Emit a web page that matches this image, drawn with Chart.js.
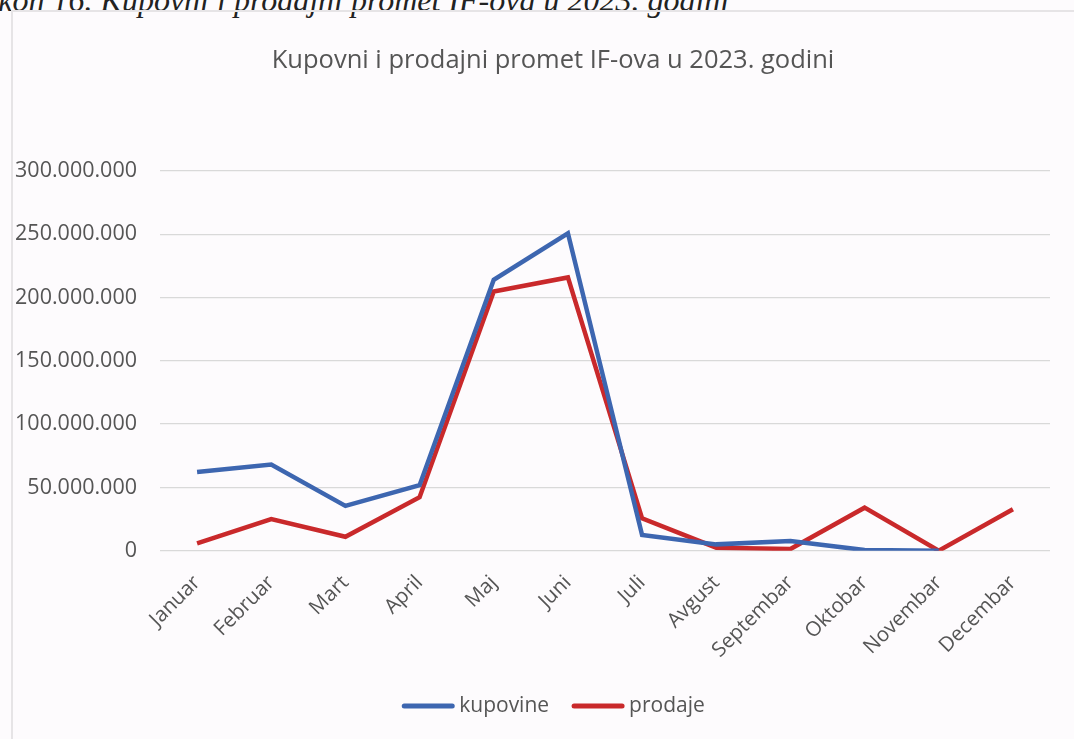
<!DOCTYPE html>
<html>
<head>
<meta charset="utf-8">
<script src="https://cdn.jsdelivr.net/npm/chart.js@4.4.1/dist/chart.umd.min.js"></script>
<style>
  html, body { margin: 0; padding: 0; background: #fdfbfd; width: 1074px; height: 739px; overflow: hidden; }
  #caption { position: absolute; left: -71px; top: -16px; line-height: 1; font-family: "Liberation Serif", serif; font-style: italic; font-size: 32px; color: #222; white-space: nowrap; }
  #frame { position: absolute; left: 11px; top: 10px; width: 1100px; height: 800px; border-left: 2px solid #e6e4e6; border-top: 2px solid #e6e4e6; }
  #wrap { position: absolute; left: 0; top: 0; width: 1074px; height: 739px; }
</style>
</head>
<body>
<div id="caption">Grafikon 16. Kupovni i prodajni promet IF-ova u 2023. godini</div>
<div id="frame"></div>
<div id="wrap"><canvas id="c" width="1074" height="739"></canvas></div>
<script>
const title = "Kupovni i prodajni promet IF-ova u 2023. godini";
const months = ["Januar","Februar","Mart","April","Maj","Juni","Juli","Avgust","Septembar","Oktobar","Novembar","Decembar"];
const kupovine = [62200000, 68000000, 35400000, 51700000, 214000000, 250800000, 12400000, 5000000, 7600000, 500000, 0, null];
const prodaje = [5700000, 24900000, 11000000, 42300000, 204800000, 215900000, 25500000, 2400000, 1300000, 34000000, 0, 32800000];
const yTicks = [0, 50000000, 100000000, 150000000, 200000000, 250000000, 300000000];

const fmt = v => String(v).replace(/\B(?=(\d{3})+(?!\d))/g, ".");

const decorPlugin = {
  id: "decor",
  afterDraw(chart) {
    const ctx = chart.ctx;
    ctx.save();
    // title
    ctx.font = "25.5px 'Open Sans'";
    ctx.fillStyle = "#555555";
    ctx.textAlign = "center";
    ctx.textBaseline = "middle";
    ctx.fillText(title, 553, 60.5);
    // legend
    const y = 706;
    ctx.font = "21px 'Open Sans'";
    const lineW = 54, gapText = 4, gapItem = 22;
    const items = chart.data.datasets.map(d => ({ label: d.label, color: d.borderColor, w: ctx.measureText(d.label).width }));
    const total = items.reduce((a, it) => a + lineW + gapText + it.w, 0) + gapItem * (items.length - 1);
    let x = 553 - total / 2;
    items.forEach(it => {
      ctx.strokeStyle = it.color;
      ctx.lineWidth = 5;
      ctx.lineCap = "round";
      ctx.beginPath();
      ctx.moveTo(x + 3, y);
      ctx.lineTo(x + lineW - 3, y);
      ctx.stroke();
      ctx.fillStyle = "#555555";
      ctx.textAlign = "left";
      ctx.fillText(it.label, x + lineW + gapText, y);
      x += lineW + gapText + it.w + gapItem;
    });
    ctx.restore();
  }
};

new Chart(document.getElementById("c"), {
  type: "line",
  data: {
    labels: months,
    datasets: [
      { label: "kupovine", data: kupovine, borderColor: "#3d66b0", backgroundColor: "#3d66b0", borderWidth: 4.5, pointRadius: 0, tension: 0 },
      { label: "prodaje", data: prodaje, borderColor: "#c9292b", backgroundColor: "#c9292b", borderWidth: 4.5, pointRadius: 0, tension: 0 }
    ]
  },
  plugins: [decorPlugin],
  options: {
    responsive: false,
    animation: false,
    layout: { padding: { left: 10, right: 24, top: 171, bottom: 54 } },
    plugins: {
      title: { display: false },
      legend: { display: false },
      tooltip: { enabled: false }
    },
    scales: {
      y: {
        min: 0, max: 300000000,
        afterBuildTicks: s => { s.ticks = yTicks.map(v => ({ value: v })); },
        afterFit: s => { s.width = 150; },
        ticks: { color: "#555555", font: { family: "Open Sans", size: 21.5 }, padding: 23, callback: v => fmt(v) },
        grid: { color: "#d9d9d9", lineWidth: 1.3, drawTicks: false },
        border: { display: false }
      },
      x: {
        offset: true,
        afterFit: s => { s.height = 134.3; },
        ticks: { color: "#555555", font: { family: "Open Sans", size: 20.5 }, minRotation: 45, maxRotation: 45, padding: 12 },
        grid: { display: false, offset: true },
        border: { display: false }
      }
    }
  }
});
</script>
</body>
</html>
